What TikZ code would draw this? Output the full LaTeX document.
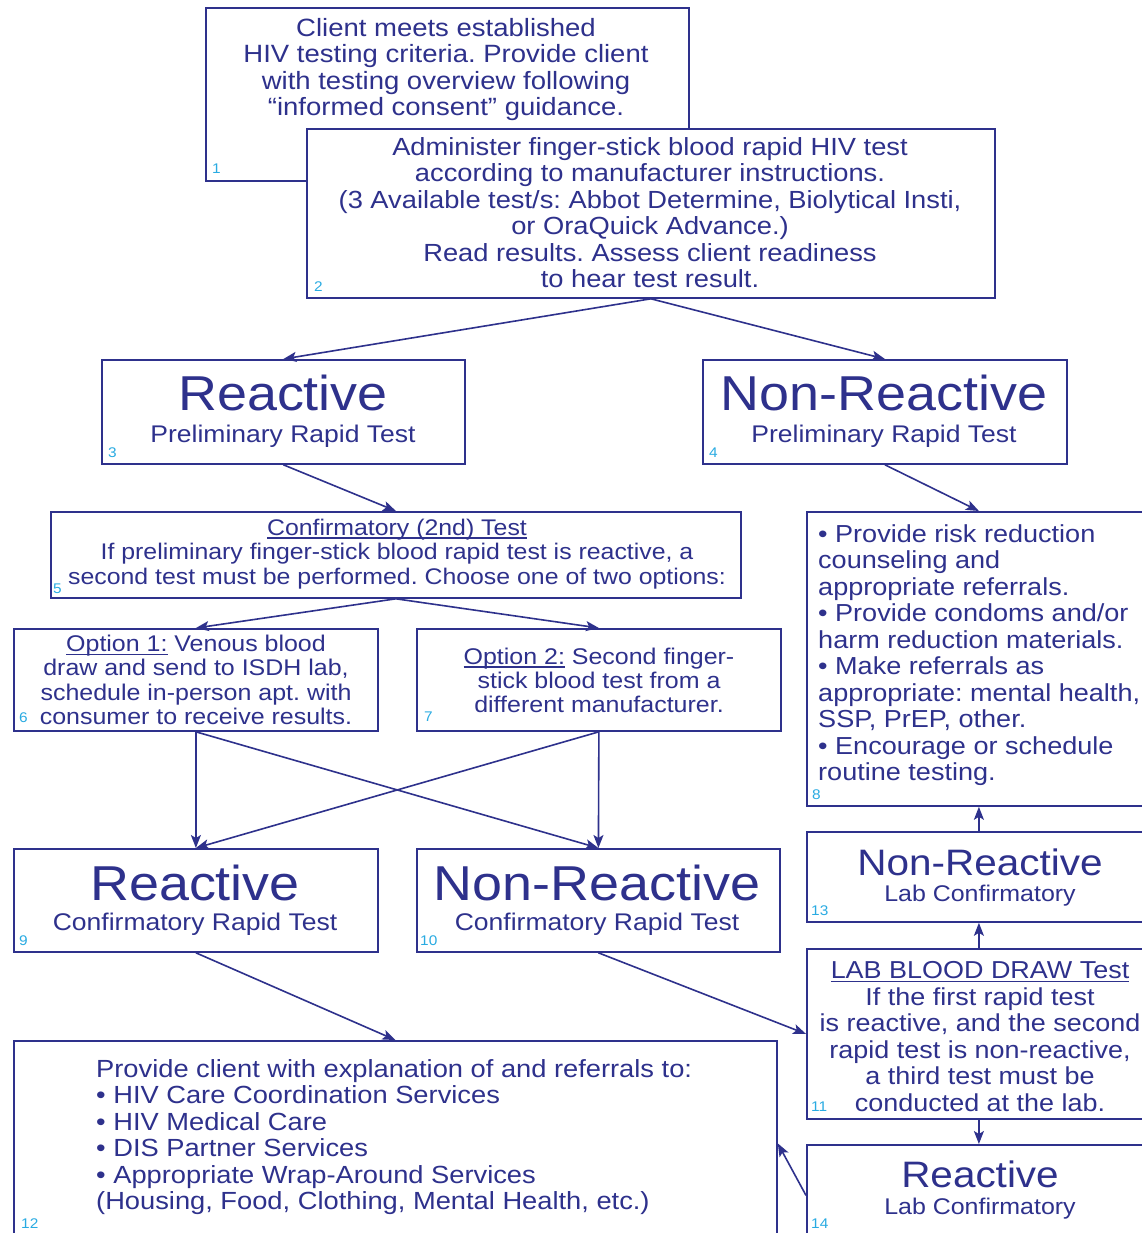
\documentclass[tikz,border=0pt]{standalone}
\usepackage{fontspec}
\setmainfont[FakeStretch=1.1]{Liberation Sans}
\usetikzlibrary{arrows.meta}
\definecolor{navy}{RGB}{46,49,140}
\definecolor{numc}{RGB}{41,171,226}
\frenchspacing
\newcommand\fs[2]{\fontsize{#1}{#2}\selectfont}
\newcommand\myul[1]{\setbox0\hbox{#1}\rlap{\rule[-3.3pt]{\wd0}{1.3pt}}\box0\relax}
\newcommand\mybox[5]{\node[box, minimum width={(#4)-(#2)}, minimum height={(#5)-(#3)}] (#1) at (#2,#3) {};}
\tikzset{
  box/.style={draw=navy, line width=1.8pt, fill=white, inner sep=0pt, anchor=north west},
  txt/.style={text=navy, inner sep=0pt, align=center},
  num/.style={text=numc, inner sep=0pt, anchor=base west, font=\fs{14}{14}},
  arr/.style={draw=navy, line width=1.6pt, -{Stealth[length=13pt,width=10pt,inset=3pt]}}
}
\begin{document}
\begin{tikzpicture}[x=1pt,y=-1pt]
\clip (0,0) rectangle (1142,1233);
\fill[white] (0,0) rectangle (1142,1233);

% boxes
\mybox{n1}{205}{7}{688}{180}
\node[txt, font=\fs{25}{26.5}] (t1) at (446,69.5) {Client meets established\\HIV testing criteria. Provide client\\with testing overview following\\“informed consent” guidance.};
\node[num] (k1) at (212,174) {1};

\mybox{n2}{306}{128}{994}{297}
\node[txt, font=\fs{24.8}{26.5}] (t2) at (650,212.5) {Administer finger-stick blood rapid HIV test\\according to manufacturer instructions.\\(3 Available test/s: Abbot Determine, Biolytical Insti,\\or OraQuick Advance.)\\Read results. Assess client readiness\\to hear test result.};
\node[num] (k2) at (314,291) {2};

\mybox{n3}{101}{359}{464}{463}
\node[txt, font=\fs{49}{49}, anchor=base] (t3a) at (283,410) {Reactive};
\node[txt, font=\fs{24.1}{24.1}, anchor=base] (t3b) at (283,442) {Preliminary Rapid Test};
\node[num] (k3) at (108,457) {3};

\mybox{n4}{702}{359}{1066}{463}
\node[txt, font=\fs{49}{49}, anchor=base] (t4a) at (884,410) {Non-Reactive};
\node[txt, font=\fs{24.1}{24.1}, anchor=base] (t4b) at (884,442) {Preliminary Rapid Test};
\node[num] (k4) at (709,457) {4};

\mybox{n5}{50}{511}{740}{597}
\node[txt, font=\fs{22.6}{24.5}] (t5) at (397,554) {\myul{Confirmatory (2nd) Test}\\If preliminary finger-stick blood rapid test is reactive, a\\second test must be performed. Choose one of two options:};
\node[num] (k5) at (53,593) {5};

\mybox{n6}{13}{628}{377}{730}
\node[txt, font=\fs{22.7}{24.3}] (t6) at (196,680) {\myul{Option 1:} Venous blood\\draw and send to ISDH lab,\\schedule in-person apt. with\\consumer to receive results.};
\node[num] (k6) at (19,722) {6};

\mybox{n7}{416}{628}{780}{730}
\node[txt, font=\fs{22.7}{24.3}] (t7) at (599,680.5) {\myul{Option 2:} Second finger-\\stick blood test from a\\different manufacturer.};
\node[num] (k7) at (424,721) {7};

\mybox{n8}{806}{511}{1150}{805}
\node[txt, font=\fs{24.6}{26.5}, align=left, anchor=west] (t8) at (818,655) {• Provide risk reduction\\counseling and\\appropriate referrals.\\• Provide condoms and/or\\harm reduction materials.\\• Make referrals as\\appropriate: mental health,\\SSP, PrEP, other.\\• Encourage or schedule\\routine testing.};
\node[num] (k8) at (812,799) {8};

\mybox{n9}{13}{848}{377}{951}
\node[txt, font=\fs{49}{49}, anchor=base] (t9a) at (195,900) {Reactive};
\node[txt, font=\fs{24.1}{24.1}, anchor=base] (t9b) at (195,930) {Confirmatory Rapid Test};
\node[num] (k9) at (19,945) {9};

\mybox{n10}{416}{848}{779}{951}
\node[txt, font=\fs{49}{49}, anchor=base] (t10a) at (597,900) {Non-Reactive};
\node[txt, font=\fs{24.1}{24.1}, anchor=base] (t10b) at (597,930) {Confirmatory Rapid Test};
\node[num] (k10) at (420,945) {10};

\mybox{n13}{806}{831}{1150}{921}
\node[txt, font=\fs{36.8}{36.8}, anchor=base] (t13a) at (980,875) {Non-Reactive};
\node[txt, font=\fs{22.7}{22.7}, anchor=base] (t13b) at (980,901) {Lab Confirmatory};
\node[num] (k13) at (811,915) {13};

\mybox{n11}{806}{948}{1150}{1118}
\node[txt, font=\fs{24.5}{26.5}] (t11) at (980,1036.5) {\myul{LAB BLOOD DRAW Test}\\If the first rapid test\\is reactive, and the second\\rapid test is non-reactive,\\a third test must be\\conducted at the lab.};
\node[num] (k11) at (811,1111) {11};

\mybox{n12}{13}{1040}{776}{1245}
\node[txt, font=\fs{24.8}{26.5}, align=left, anchor=west] (t12) at (96,1137) {Provide client with explanation of and referrals to:\\• HIV Care Coordination Services\\• HIV Medical Care\\• DIS Partner Services\\• Appropriate Wrap-Around Services\\(Housing, Food, Clothing, Mental Health, etc.)};
\node[num] (k12) at (21,1228) {12};

\mybox{n14}{806}{1144}{1150}{1245}
\node[txt, font=\fs{36.8}{36.8}, anchor=base] (t14a) at (980,1187) {Reactive};
\node[txt, font=\fs{22.7}{22.7}, anchor=base] (t14b) at (980,1214) {Lab Confirmatory};
\node[num] (k14) at (811,1228) {14};

% connectors
\draw[arr] (n2.south) -- (n3.north);
\draw[arr] (n2.south) -- (n4.north);
\draw[arr] (n3.south) -- (n5.north);
\draw[arr] (n4.south) -- (n8.north);
\draw[arr] (n5.south) -- (n6.north);
\draw[arr] (n5.south) -- (n7.north);
\draw[arr] (n6.south) -- (n9.north);
\draw[arr] (n6.south) -- (n10.north);
\draw[arr] (n7.south) -- (n9.north);
\draw[arr] (n7.south) -- (n10.north);
\draw[arr] (n9.south) -- (n12.north);
\draw[arr] (n10.south) -- (n11.west);
\draw[arr] (n11.north) -- (n13.south);
\draw[arr] (n13.north) -- (n8.south);
\draw[arr] (n11.south) -- (n14.north);
\draw[arr] (n14.west) -- (n12.east);
\end{tikzpicture}
\end{document}
